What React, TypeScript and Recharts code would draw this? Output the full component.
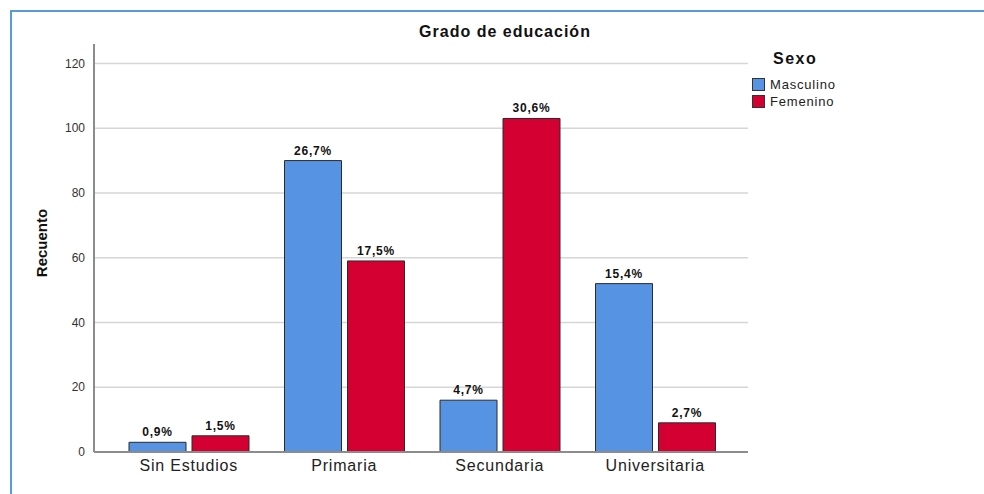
import React from 'react';
import { BarChart, Bar, XAxis, YAxis, CartesianGrid, LabelList } from 'recharts';

const categories = ['Sin Estudios', 'Primaria', 'Secundaria', 'Universitaria'];
const masculino = [3, 90, 16, 52];
const femenino = [5, 59, 103, 9];
const masculinoPct = ['0,9%', '26,7%', '4,7%', '15,4%'];
const femeninoPct = ['1,5%', '17,5%', '30,6%', '2,7%'];
const yTicks = [0, 20, 40, 60, 80, 100, 120];
const seriesNames = ['Masculino', 'Femenino'];

const BLUE = '#5694E3';
const RED = '#D50032';
const FONT = '"Liberation Sans", Arial, sans-serif';

const data = categories.map((c, i) => ({
  cat: c,
  Masculino: masculino[i],
  Femenino: femenino[i],
  mPct: masculinoPct[i],
  fPct: femeninoPct[i],
}));

const colors = [BLUE, RED];

const LegendBox = () => (
  <div style={{ position: 'absolute', left: 752, top: 50, fontFamily: FONT }}>
    <div style={{ fontWeight: 'bold', fontSize: 16, letterSpacing: 1.5, marginLeft: 21, color: '#111', lineHeight: '18px' }}>Sexo</div>
    {seriesNames.map((name, i) => (
      <div key={name} style={{ display: 'flex', alignItems: 'center', height: 17, marginTop: i === 0 ? 8 : 0 }}>
        <div style={{ width: 13, height: 13, background: colors[i], border: '1px solid #333', boxSizing: 'border-box', marginRight: 5 }} />
        <span style={{ fontSize: 13, letterSpacing: 0.8, color: '#222' }}>{name}</span>
      </div>
    ))}
  </div>
);

export default function App() {
  return (
    <div style={{ position: 'absolute', left: 0, top: 0, width: 984, height: 494, background: '#fff', overflow: 'hidden' }}>
      <div style={{ position: 'absolute', left: 10, top: 10, width: 974, height: 484, borderTop: '2px solid #5B9BD5', borderLeft: '2px solid #5B9BD5', boxSizing: 'border-box' }} />
      <div style={{ position: 'absolute', left: 0, width: 1010, top: 23, textAlign: 'center', fontFamily: FONT, fontWeight: 'bold', fontSize: 16, letterSpacing: 1, color: '#111' }}>
        Grado de educación
      </div>
      <div style={{ position: 'absolute', left: 41, top: 243, transform: 'translate(-50%, -50%) rotate(-90deg)', fontFamily: FONT, fontWeight: 'bold', fontSize: 15, color: '#111', whiteSpace: 'nowrap' }}>
        Recuento
      </div>
      <div style={{ position: 'absolute', left: 0, top: 0 }}>
        <BarChart width={984} height={494} data={data} margin={{ top: 44, right: 236, bottom: 12, left: 34 }} barSize={57} barGap={6}>
          <CartesianGrid vertical={false} horizontalValues={yTicks} stroke="#D6D6D6" strokeWidth={1.5} />
          <XAxis
            dataKey="cat"
            height={30}
            padding={{ left: 17, right: 15 }}
            tickSize={0}
            tickMargin={8}
            axisLine={{ stroke: '#8C8C8C', strokeWidth: 2 }}
            tick={{ fontFamily: FONT, fontSize: 16, letterSpacing: 0.8, fill: '#222' }}
          />
          <YAxis
            width={60}
            domain={[0, 126]}
            ticks={yTicks}
            tickSize={0}
            tickMargin={9}
            axisLine={{ stroke: '#8C8C8C', strokeWidth: 2 }}
            tick={{ fontFamily: FONT, fontSize: 12, fill: '#333' }}
          />
          <Bar dataKey="Masculino" fill={BLUE} stroke="#2B2B2B" strokeWidth={1} isAnimationActive={false}>
            <LabelList dataKey="mPct" position="top" offset={6} style={{ fontFamily: FONT, fontSize: 12, fontWeight: 'bold', letterSpacing: 0.8, fill: '#111' }} />
          </Bar>
          <Bar dataKey="Femenino" fill={RED} stroke="#2B2B2B" strokeWidth={1} isAnimationActive={false}>
            <LabelList dataKey="fPct" position="top" offset={6} style={{ fontFamily: FONT, fontSize: 12, fontWeight: 'bold', letterSpacing: 0.8, fill: '#111' }} />
          </Bar>
        </BarChart>
      </div>
      <LegendBox />
    </div>
  );
}
